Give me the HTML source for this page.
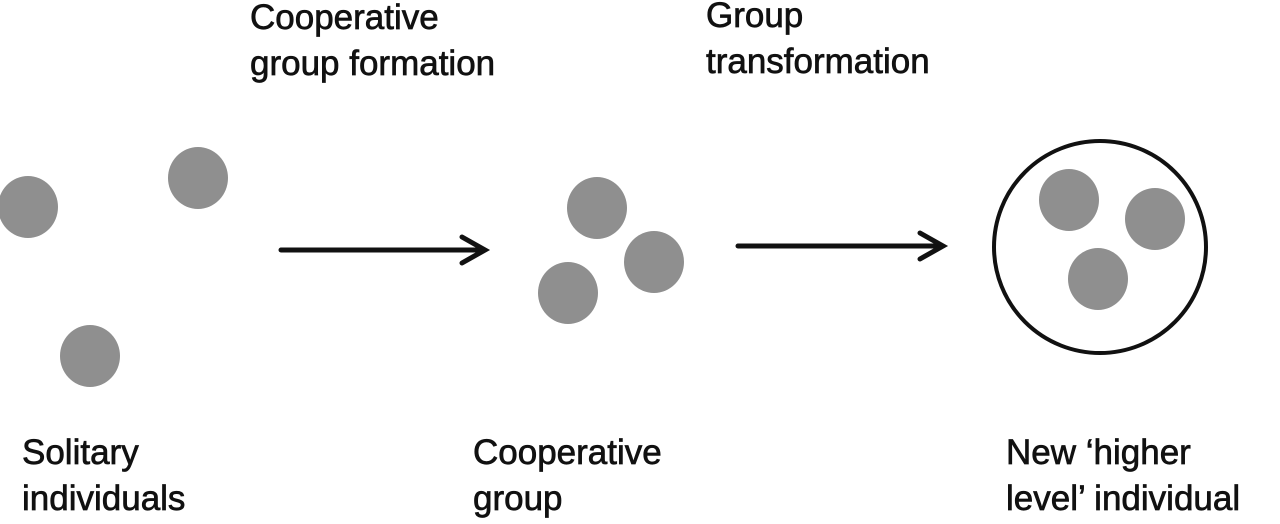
<!DOCTYPE html>
<html><head><style>
body{margin:0;width:1280px;height:524px;background:#fff;overflow:hidden;position:relative;font-family:"Liberation Sans",sans-serif;color:#111}
.t{position:absolute;font-size:35px;line-height:46px;white-space:nowrap;-webkit-text-stroke:0.7px #111}
svg{position:absolute;left:0;top:0}
</style></head><body>
<svg width="1280" height="524">
<g fill="#8f8f8f">
<ellipse cx="28" cy="207" rx="30" ry="31"/>
<ellipse cx="198" cy="178" rx="30" ry="31"/>
<ellipse cx="90" cy="356" rx="30" ry="31"/>
<ellipse cx="597" cy="208" rx="30" ry="31"/>
<ellipse cx="654" cy="262" rx="30" ry="31"/>
<ellipse cx="568" cy="293" rx="30" ry="31"/>
<ellipse cx="1069" cy="200" rx="30" ry="31"/>
<ellipse cx="1155" cy="219" rx="30" ry="31"/>
<ellipse cx="1098" cy="279" rx="30" ry="31"/>
</g>
<circle cx="1100" cy="247" r="106" fill="none" stroke="#111" stroke-width="4"/>
<g stroke="#111" stroke-width="5" fill="none" stroke-linecap="round">
<line x1="281" y1="250" x2="484" y2="250"/>
<polyline points="462,237 485,250 462,263"/>
<line x1="738" y1="246" x2="942" y2="246"/>
<polyline points="920,233 943,246 920,259"/>
</g>
</svg>
<div class="t" style="left:250px;top:-5px">Cooperative<br>group formation</div>
<div class="t" style="left:706px;top:-7px">Group<br>transformation</div>
<div class="t" style="left:22px;top:430px">Solitary<br>individuals</div>
<div class="t" style="left:473px;top:430px">Cooperative<br>group</div>
<div class="t" style="left:1006px;top:430px">New ‘higher<br>level’ individual</div>
</body></html>
